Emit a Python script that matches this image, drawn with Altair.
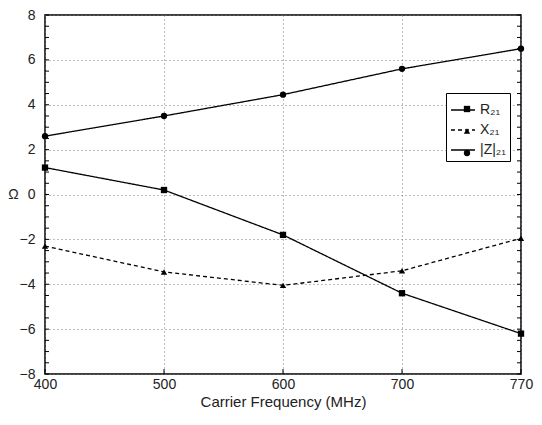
import altair as alt
import pandas as pd

freqs = ["400", "500", "600", "700", "770"]
r21 = [1.2, 0.2, -1.8, -4.4, -6.2]
x21 = [-2.3, -3.45, -4.05, -3.4, -1.95]
z21 = [2.6, 3.5, 4.45, 5.6, 6.5]
series_names = ["R₂₁", "X₂₁", "|Z|₂₁"]
marker_keys = ["m-R", "m-X", "m-Z"]
series_shapes = ["square", "triangle-up", "circle"]
series_dash = [[1, 0], [4, 3], [1, 0]]
y_major = [-8, -6, -4, -2, 0, 2, 4, 6, 8]
y_minor = [-8, -7.5, -7, -6.5, -6, -5.5, -5, -4.5, -4, -3.5, -3, -2.5, -2, -1.5, -1, -0.5,
           0, 0.5, 1, 1.5, 2, 2.5, 3, 3.5, 4, 4.5, 5, 5.5, 6, 6.5, 7, 7.5, 8]

rows = []
for name, key, vals in zip(series_names, marker_keys, [r21, x21, z21]):
    for f, v in zip(freqs, vals):
        rows.append({"freq": f, "value": v, "series": name, "marker": key})
df = pd.DataFrame(rows)

W, H = 476, 359
FONT = "Liberation Sans"
LX, LY = W - 75, 78

x_scale = alt.Scale(type="point", padding=0, domain=freqs)
y_scale = alt.Scale(domain=[-8, 8], nice=False)

x_enc = alt.X("freq:O", sort=freqs, scale=x_scale,
              axis=alt.Axis(title="Carrier Frequency (MHz)", labelAngle=0, tickSize=0,
                            labelPadding=3, grid=True, gridDash=[1, 3], gridColor="#777",
                            labelFontSize=14, titleFontSize=15, titleFontWeight="normal",
                            titlePadding=3, domain=False))
y_enc = alt.Y("value:Q", scale=y_scale,
              axis=alt.Axis(title="Ω", values=y_major, tickSize=0, labelPadding=10,
                            grid=True, gridDash=[1, 3], gridColor="#777",
                            labelFontSize=14, titleFontSize=14, titleFontWeight="normal",
                            titleAngle=0, titleAlign="center", titleBaseline="middle",
                            titleX=-32, titleY=H / 2, domain=False))

lines = alt.Chart(df).mark_line(color="black", strokeWidth=1.3).encode(
    x=x_enc, y=y_enc,
    strokeDash=alt.StrokeDash(
        "series:N", sort=series_names,
        scale=alt.Scale(domain=series_names, range=series_dash),
        legend=alt.Legend(title=None, orient="none", legendX=LX, legendY=LY,
                          symbolType="stroke", symbolSize=576, symbolStrokeWidth=1.3,
                          symbolStrokeColor="black",
                          strokeColor="black", fillColor="white", padding=4,
                          labelOffset=4, labelFontSize=14, labelFont=FONT,
                          labelColor="#222", rowPadding=-3)),
)

points = alt.Chart(df).mark_point(filled=True, color="black", opacity=1, size=40).encode(
    x=alt.X("freq:O", sort=freqs, scale=x_scale), y=alt.Y("value:Q", scale=y_scale),
    shape=alt.Shape(
        "marker:N", sort=marker_keys,
        scale=alt.Scale(domain=marker_keys, range=series_shapes),
        legend=alt.Legend(title=None, orient="none", legendX=LX + 10, legendY=LY + 5,
                          symbolSize=40, symbolFillColor="black", symbolStrokeColor="black",
                          symbolOpacity=1, padding=4, labelOffset=4, labelFontSize=14,
                          labelFont=FONT, labelExpr="''", rowPadding=8,
                          strokeColor="transparent")),
)

tick_df = pd.DataFrame({"t": y_minor})
ticks_l = alt.Chart(tick_df).mark_rule(color="black", strokeWidth=1).encode(
    y=alt.Y("t:Q", scale=y_scale), x=alt.value(0), x2=alt.value(4))
ticks_r = alt.Chart(tick_df).mark_rule(color="black", strokeWidth=1).encode(
    y=alt.Y("t:Q", scale=y_scale), x=alt.value(W), x2=alt.value(W - 4))
ticks_b = alt.Chart(pd.DataFrame({"f": freqs})).mark_rule(color="black", strokeWidth=1).encode(
    x=alt.X("f:O", sort=freqs, scale=x_scale), y=alt.value(H), y2=alt.value(H - 5))

chart = alt.layer(lines, points, ticks_l, ticks_r, ticks_b).properties(
    width=W, height=H,
    autosize=alt.AutoSizeParams(type="none"),
    padding={"left": 37, "top": 7, "right": 13, "bottom": 38},
).configure_view(
    stroke="black", strokeWidth=1.5
).configure_axis(labelFont=FONT, titleFont=FONT, labelColor="#222", titleColor="#222")

chart.save("out.html", embed_options={"renderer": "svg", "actions": False})
